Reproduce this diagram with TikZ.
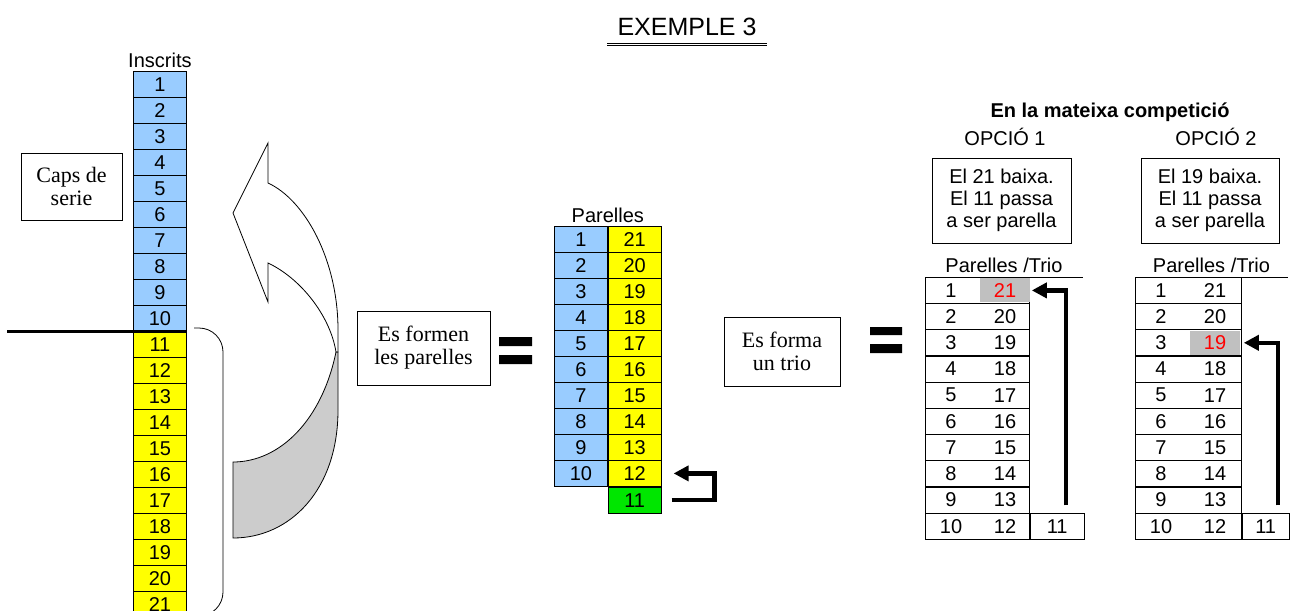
\documentclass[tikz,border=0pt]{standalone}
\usepackage{fontspec}
\setmainfont{Liberation Serif}
\setsansfont{Liberation Sans}
\usetikzlibrary{positioning,arrows.meta}
\definecolor{blau}{HTML}{99CCFF}
\definecolor{groc}{HTML}{FFFF00}
\definecolor{verd}{HTML}{00E600}
\definecolor{gris}{HTML}{C0C0C0}
\begin{document}
\begin{tikzpicture}[x=1pt, y=-1pt, line width=0.8pt,
  font=\sffamily\fontsize{20}{22}\selectfont,
  cell/.style = {draw, minimum width=53pt, minimum height=26pt, inner sep=0pt, anchor=north west},
  fila/.style = {draw, minimum height=26pt, inner sep=0pt, anchor=north west},
  caixa/.style = {draw, align=center},
  serif/.style = {font=\rmfamily\fontsize{22}{23}\selectfont},
  fat/.style = {line width=4.5pt, -{Triangle[length=15pt,width=15pt]}},
  marcat/.style = {fill=gris, text=red, minimum width=50pt, minimum height=24pt},
  nomarca/.style = {}]
\useasboundingbox (0,0) rectangle (1300,610);

% titol
\node[font=\sffamily\fontsize{25}{27}\selectfont] (titol) at (687,27) {EXEMPLE 3};
\draw[double, double distance=1.4pt, line width=1pt] (607,44.5) -- (767,44.5);

% inscrits
\foreach \n in {1,...,10}
  \node[cell, fill=blau] (ins\n) at (133,{71+26*(\n-1)}) {\n};
\foreach \n in {11,...,21}
  \node[cell, fill=groc] (ins\n) at (133,{71+26*(\n-1)}) {\n};
\node[above=3pt of ins1, inner sep=0pt] (tins) {Inscrits};
\coordinate (tall) at (7,331);
\draw[line width=3pt] (tall) -- (tall -| ins10.east);
\node[caixa, serif, minimum width=101pt, minimum height=67pt] (caps) at (71.5,186.5) {Caps de\\serie};
\draw[rounded corners=24pt] (194,328) -- (223,328) -- (223,616) -- (194,616);

% fletxa corbada
\draw[fill=gray!40] (336,352) .. controls (322,420) and (280,462) .. (233,462) -- (233,538)
  .. controls (290,538) and (338,490) .. (338,410) -- (338,352) -- cycle;
\draw[fill=white] (268,183) -- (268,143) -- (233,213) -- (268,302) -- (268,263)
  .. controls (300,278) and (330,315) .. (336,352) -- (338,352) -- (338,330)
  .. controls (338,260) and (305,200) .. (268,183) -- cycle;

% parelles
\node[caixa, serif, minimum width=133pt, minimum height=74pt] (formen) at (423.5,348) {Es formen\\les parelles};
\fill (499,337) rectangle (532,346) (499,355) rectangle (532,364);
\foreach \n [evaluate=\n as \m using int(22-\n)] in {1,...,10} {
  \node[cell, fill=blau] (pa\n) at (554,{226+26*(\n-1)}) {\n};
  \node[cell, fill=groc, right=0pt of pa\n] (pb\n) {\m};
}
\node[above=3pt of pa1.north east, inner sep=0pt] (tpar) {Parelles};
\node[cell, fill=verd, below=0pt of pb10] (pg) {11};
\draw[line width=2.5pt] (pg.north west) -- (pg.north east);
\draw[fat] ([xshift=10pt]pg.east) -- ++(43,0) |- ([xshift=12pt]pb10.east);

% trio
\node[caixa, serif, minimum width=116pt, minimum height=69pt] (trio) at (782,351.5) {Es forma\\un trio};
\fill (870,327) rectangle (902,335) (870,344) rectangle (902,353);

% opcions
\node[font=\sffamily\bfseries\fontsize{20}{22}\selectfont] (comp) at (1110,112) {En la mateixa competició};
\node (op1) at (1005,137) {OPCIÓ 1};
\node (op2) at (1216,137) {OPCIÓ 2};
\node[caixa, minimum width=139pt, minimum height=85pt] (baixa1) at (1001.5,200.5) {El 21 baixa.\\El 11 passa\\a ser parella};
\node[caixa, minimum width=138pt, minimum height=85pt] (baixa2) at (1210,200.5) {El 19 baixa.\\El 11 passa\\a ser parella};

\foreach \tb/\x/\w/\e/\hi in {a/925/104/54/1, b/1135/106/47/3} {
  \foreach \n [evaluate=\n as \m using int(22-\n)] in {1,...,10} {
    \node[fila, minimum width=\w pt] (t\tb\n) at (\x,{277+26.2*(\n-1)}) {};
    \ifnum\n=\hi \def\estil{marcat}\else\def\estil{nomarca}\fi
    \node (e\tb\n) at ([xshift=26pt]t\tb\n.west) {\n};
    \node[\estil] (f\tb\n) at ([xshift=80pt]t\tb\n.west) {\m};
  }
  \node[fila, minimum width=\e pt, right=0pt of t\tb10] (x\tb) {11};
  \node[anchor=south, inner sep=0pt] (lab\tb) at ([xshift={(\w+\e)/2}, yshift=4pt]t\tb1.north west) {Parelles /Trio};
  \draw (t\tb1.north west) -- ++({\w+\e},0);
  \draw[fat] ([xshift=36pt,yshift=8pt]t\tb9.south east) |- ([xshift=2pt]t\tb\hi.east);
}
\end{tikzpicture}
\end{document}
